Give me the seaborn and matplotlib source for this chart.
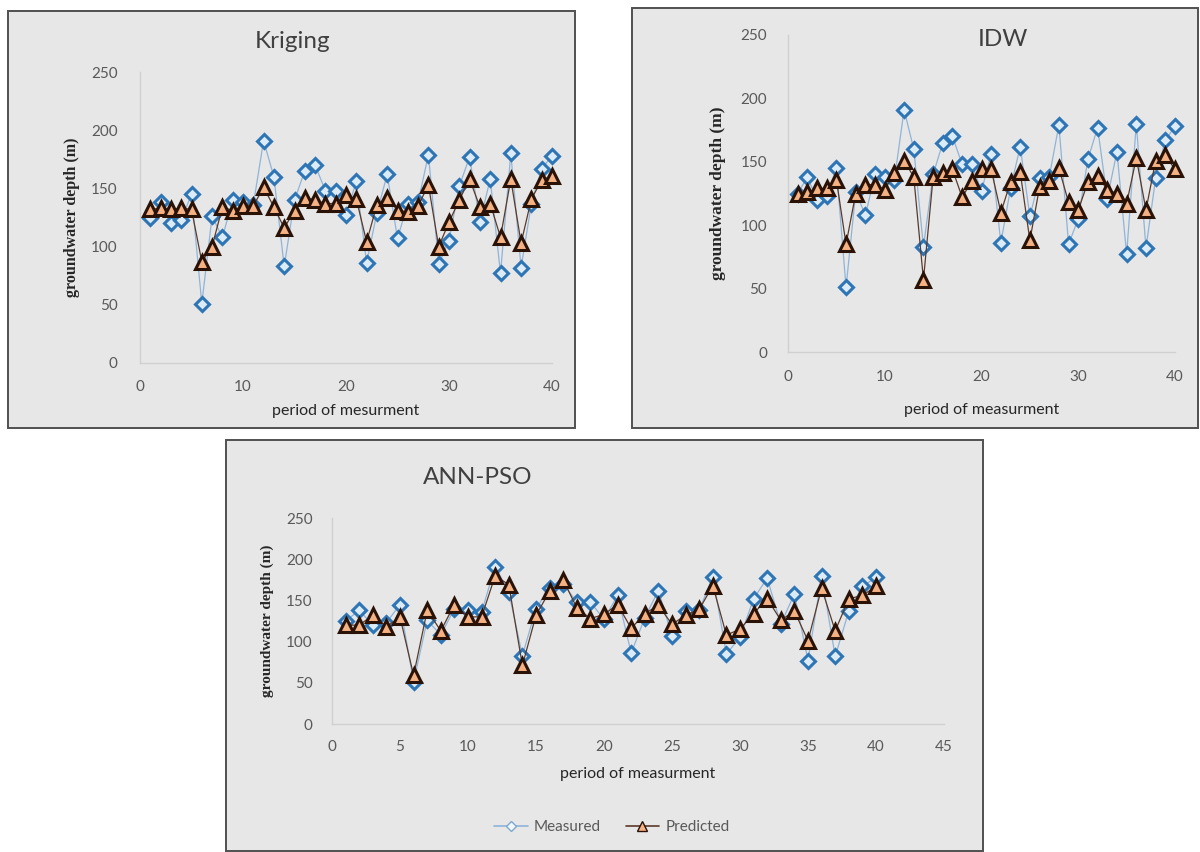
import matplotlib
matplotlib.use("Agg")
import matplotlib.pyplot as plt
import seaborn as sns
from matplotlib.patches import Rectangle
from matplotlib.lines import Line2D

# ---------------- data ----------------
periods = list(range(1, 41))
measured = [125, 138, 120, 123, 145, 51, 126, 108, 140, 138,
            136, 191, 160, 83, 140, 165, 170, 148, 148, 127,
            156, 86, 129, 162, 107, 137, 138, 179, 85, 105,
            152, 177, 121, 158, 77, 180, 82, 137, 167, 178]
kriging_pred = [132, 133, 132, 133, 132, 87, 100, 134, 131, 135,
                135, 151, 134, 116, 131, 142, 140, 137, 137, 144,
                141, 104, 136, 142, 131, 130, 135, 153, 100, 121,
                140, 158, 134, 137, 108, 158, 103, 141, 157, 161]
idw_pred = [125, 126, 129, 129, 136, 85, 125, 132, 132, 128,
            141, 151, 138, 57, 138, 141, 144, 122, 135, 144,
            144, 110, 134, 142, 88, 130, 135, 145, 118, 112,
            134, 139, 128, 125, 117, 153, 112, 151, 155, 144]
annpso_pred = [120, 120, 132, 118, 130, 59, 138, 113, 145, 130,
               130, 180, 169, 71, 132, 161, 175, 141, 128, 133,
               145, 116, 134, 144, 121, 132, 139, 168, 108, 115,
               134, 152, 126, 137, 101, 165, 113, 152, 156, 167]

titles = ["Kriging", "IDW", "ANN-PSO"]
xlabels = ["period of mesurment", "period of measurment", "period of measurment"]
ylabel = "groundwater depth (m)"
series_names = ["Measured", "Predicted"]
yticks = [0, 50, 100, 150, 200, 250]

# ---------------- style ----------------
sns.set_theme(style="white")
plt.rcParams['font.family'] = ['Lato', 'DejaVu Sans']

W, H = 1200, 852
fig = plt.figure(figsize=(W / 100, H / 100), dpi=100)
fig.patch.set_facecolor("white")

BG = "#e7e7e7"
TICK_C = "#595959"
MEAS_LINE = "#8fb4d9"
MEAS_EDGE = "#2e75b6"
MEAS_FACE = "#dcebf8"
PRED_LINE = "#5a3a2a"
PRED_EDGE = "#2b1206"
PRED_FACE = "#f4b183"


def frac_rect(x0, y0, x1, y1):
    return [x0 / W, 1 - y1 / H, (x1 - x0) / W, (y1 - y0) / H]


boxes = [(8, 11, 575, 428), (632, 8, 1198, 428), (226, 440, 983, 851)]
for b in boxes:
    x0, y0, w, h = frac_rect(*b)
    fig.patches.append(Rectangle((x0, y0), w, h, transform=fig.transFigure,
                                 facecolor=BG, edgecolor="#505050", lw=1.4, zorder=-5))

panels = [
    dict(rect=(140, 72, 552, 363), pred=kriging_pred, xmax=40, xstep=10,
         title_xy=(293, 42), xl=(0.5, -0.165), yl=(-0.165, 0.5),
         ypad=16, xpad=12, ylsize=11.5),
    dict(rect=(788, 35, 1175, 352), pred=idw_pred, xmax=40, xstep=10,
         title_xy=(1003, 40), xl=(0.5, -0.183), yl=(-0.181, 0.5),
         ypad=15, xpad=13, ylsize=12.5),
    dict(rect=(332, 518, 944, 724), pred=annpso_pred, xmax=45, xstep=5,
         title_xy=(478, 478), xl=(0.5, -0.242), yl=(-0.105, 0.5),
         ypad=14, xpad=11.5, ylsize=11),
]

for i, p in enumerate(panels):
    ax = fig.add_axes(frac_rect(*p["rect"]))
    ax.set_facecolor("none")
    ax.set_zorder(1)
    sns.lineplot(x=periods, y=measured, ax=ax, color=MEAS_LINE, lw=0.9,
                 marker="D", markersize=7.5, markerfacecolor=MEAS_FACE,
                 markeredgecolor=MEAS_EDGE, markeredgewidth=2.2,
                 clip_on=False, zorder=3)
    sns.lineplot(x=periods, y=p["pred"], ax=ax, color=PRED_LINE, lw=0.9,
                 marker="^", markersize=9.5, markerfacecolor=PRED_FACE,
                 markeredgecolor=PRED_EDGE, markeredgewidth=2.2,
                 clip_on=False, zorder=4)
    ax.set_xlim(0, p["xmax"])
    ax.set_ylim(0, 250)
    ax.set_xticks(list(range(0, p["xmax"] + 1, p["xstep"])))
    ax.set_yticks(yticks)
    ax.tick_params(axis="both", length=0, labelsize=11, colors=TICK_C)
    ax.tick_params(axis="y", pad=p["ypad"])
    ax.tick_params(axis="x", pad=p["xpad"])
    for s in ["top", "right"]:
        ax.spines[s].set_visible(False)
    for s in ["left", "bottom"]:
        ax.spines[s].set_color("#d0d0d0")
        ax.spines[s].set_linewidth(1.0)
    ax.set_xlabel(xlabels[i], fontsize=11.5, color="#262626")
    ax.xaxis.set_label_coords(*p["xl"])
    ax.xaxis.label.set_va("center")
    ax.set_ylabel(ylabel, fontsize=p["ylsize"], fontweight="bold",
                  family=["Liberation Serif", "DejaVu Serif"], color="#262626")
    ax.yaxis.set_label_coords(*p["yl"])
    ax.yaxis.label.set_va("center")
    tx, ty = p["title_xy"]
    fig.text(tx / W, 1 - ty / H, titles[i], fontsize=17.5, color="#404040",
             ha="center", va="center")

handles = [
    Line2D([], [], color=MEAS_LINE, lw=1.2, marker="D", markersize=5,
           markerfacecolor="#f2f7fc", markeredgecolor="#7da7d0", markeredgewidth=1.0),
    Line2D([], [], color=PRED_LINE, lw=1.2, marker="^", markersize=7,
           markerfacecolor=PRED_FACE, markeredgecolor=PRED_EDGE, markeredgewidth=1.0),
]
leg = fig.legend(handles, series_names, loc="center", bbox_to_anchor=(612 / W, 1 - 827 / H),
                 ncol=2, frameon=False, fontsize=11, handlelength=2.2,
                 columnspacing=1.6, handletextpad=0.4)
for t in leg.get_texts():
    t.set_color(TICK_C)

fig.savefig("out.png", dpi=100, facecolor="white")
